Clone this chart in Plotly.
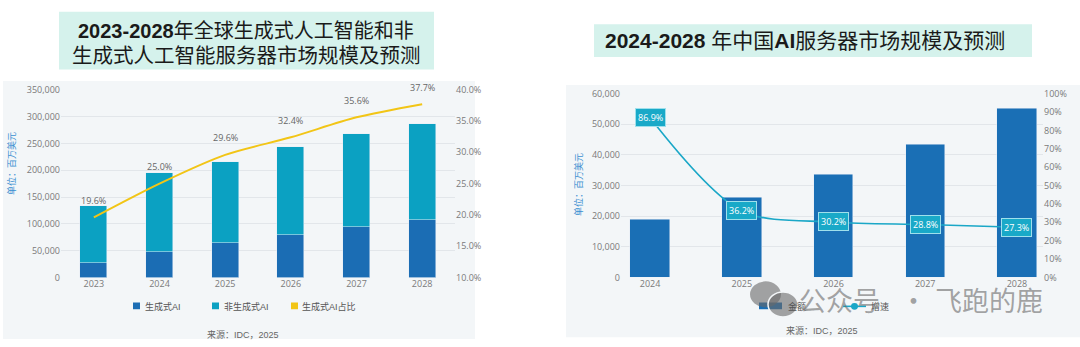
import plotly.graph_objects as go

# ---- Global generative / non-generative AI server market (USD million) ----
years_global = ["2023", "2024", "2025", "2026", "2027", "2028"]
gen_ai = [26500, 48600, 63900, 79000, 95100, 108400]
non_gen_ai = [108100, 145800, 152100, 165000, 172000, 179100]
gen_share = [19.6, 25.0, 29.6, 32.4, 35.6, 37.7]

# ---- China AI server market (USD million) and YoY growth ----
years_china = ["2024", "2025", "2026", "2027", "2028"]
china_size = [19000, 25900, 33700, 43400, 55200]
china_growth = [86.9, 36.2, 30.2, 28.8, 27.3]

W, H = 1080, 347
CJK = "Liberation Sans, Noto Sans CJK SC"
TICK = dict(size=9, color="#7a7a7a", family="Open Sans, Noto Sans CJK SC")

C_GEN = "#1b6db4"
C_NONGEN = "#0ba1c2"
C_YELLOW = "#f2c516"
C_CN_BAR = "#1a6fb5"
C_CN_LINE = "#1aa7c7"
C_MARK = "rgba(105,105,105,0.6)"


def px(x):
    return x / W


def py(y):
    return 1 - y / H


fig = go.Figure()

# Left chart: stacked bars + share line
fig.add_trace(go.Bar(x=years_global, y=gen_ai, name="生成式AI", marker_color=C_GEN,
                     width=0.41, xaxis="x", yaxis="y"))
fig.add_trace(go.Bar(x=years_global, y=non_gen_ai, name="非生成式AI", marker_color=C_NONGEN,
                     width=0.41, xaxis="x", yaxis="y"))
fig.add_trace(go.Scatter(x=years_global, y=gen_share, name="生成式AI占比", mode="lines",
                         line=dict(color=C_YELLOW, width=2, shape="spline", smoothing=0.8),
                         xaxis="x", yaxis="y2"))

# Right chart: bars + growth line
fig.add_trace(go.Bar(x=years_china, y=china_size, name="金额", marker_color=C_CN_BAR,
                     width=0.43, xaxis="x3", yaxis="y3"))
fig.add_trace(go.Scatter(x=years_china, y=china_growth, name="增速", mode="lines+markers",
                         line=dict(color=C_CN_LINE, width=1.6, shape="spline", smoothing=0.9),
                         marker=dict(size=4, color=C_CN_LINE),
                         xaxis="x3", yaxis="y4"))

annotations = []
# value labels (category axes take the category index)
for i, v in enumerate(gen_share):
    annotations.append(dict(x=i, y=v, xref="x", yref="y2", text=f"{v:.1f}%",
                            showarrow=False, yshift=17, xanchor="center", yanchor="middle",
                            font=dict(size=9, color="#666666", family=TICK["family"])))
for i, v in enumerate(china_growth):
    annotations.append(dict(x=i, y=v, xref="x3", yref="y4", text=f"{v:.1f}%",
                            showarrow=False, bgcolor="#19a9c8", bordercolor="#9fe0ec",
                            borderwidth=1, borderpad=2, xanchor="center", yanchor="middle",
                            font=dict(size=9, color="white", family=TICK["family"])))


def note(x, y, text, size, color, angle=0, family=CJK, xanchor="center"):
    return dict(x=px(x), y=py(y), xref="paper", yref="paper", showarrow=False,
                xanchor=xanchor, yanchor="middle", textangle=angle, text=text,
                font=dict(size=size, color=color, family=family))


def rect(x0, y0, x1, y1, fill, layer="above", line=None):
    return dict(type="rect", xref="paper", yref="paper", x0=px(x0), x1=px(x1),
                y0=py(y1), y1=py(y0), fillcolor=fill, layer=layer,
                line=line if line else dict(width=0))


LEG = dict(size=9, color="#555555")
annotations += [
    note(246, 25, "<b>2023-2028</b>年全球生成式人工智能和非", 20, "#1a1a1a"),
    note(246, 50, "生成式人工智能服务器市场规模及预测", 20.5, "#1a1a1a"),
    note(805, 35, "<b>2024-2028</b> 年中国<b>AI</b>服务器市场规模及预测", 21, "#1a1a1a"),
    note(12, 163, "单位：百万美元", 9, "#3b8fd1", -90),
    note(578, 185, "单位：百万美元", 9, "#3b8fd1", -90),
    # legends
    note(143, 311, "生成式AI", 9, "#555555", xanchor="left"),
    note(222, 311, "非生成式AI", 9, "#555555", xanchor="left"),
    note(300, 311, "生成式AI占比", 9, "#555555", xanchor="left"),
    note(786, 311, "金额", 9, "#555555", xanchor="left"),
    note(869, 311, "增速", 9, "#555555", xanchor="left"),
    # sources
    note(243, 341, "来源：IDC，2025", 9, "#666666"),
    note(822, 337, "来源：IDC，2025", 9, "#666666"),
    # account watermark
    note(839, 304, "公众号", 27, C_MARK, family="Noto Sans CJK SC"),
    note(913, 304, "·", 27, C_MARK, family="Noto Sans CJK SC"),
    note(989, 304, "飞跑的鹿", 27, C_MARK, family="Noto Sans CJK SC"),
]

shapes = [
    rect(3, 77, 475, 345, "#f3f6f8", layer="below"),
    rect(566, 81, 1080, 343, "#f3f6f8", layer="below"),
    rect(59, 5, 434, 65, "#d5f2ec", layer="below"),
    rect(594, 18, 1032, 52, "#d5f2ec", layer="below"),
    # legend swatches
    rect(133, 307, 140, 314, C_GEN),
    rect(212, 307, 219, 314, C_NONGEN),
    rect(291, 307, 298, 314, C_YELLOW),
    rect(759, 307, 782, 314, C_CN_BAR),
    dict(type="line", xref="paper", yref="paper", x0=px(843), x1=px(866), y0=py(311), y1=py(311),
         line=dict(color=C_CN_LINE, width=1.6)),
    dict(type="circle", xref="paper", yref="paper", x0=px(851), x1=px(858), y0=py(314.5),
         y1=py(307.5), fillcolor=C_CN_LINE, line=dict(width=0)),
    # chat-bubble icon of the watermark
    dict(type="circle", xref="paper", yref="paper", x0=px(750), x1=px(781), y0=py(312), y1=py(285),
         fillcolor=C_MARK, line_width=0),
    dict(type="circle", xref="paper", yref="paper", x0=px(768), x1=px(798), y0=py(322), y1=py(296),
         fillcolor=C_MARK, line=dict(color="#f3f6f8", width=1.5)),
]

grid = "#e2e6ea"
fig.update_layout(
    width=W, height=H, margin=dict(l=0, r=0, t=0, b=0),
    paper_bgcolor="white", plot_bgcolor="rgba(0,0,0,0)",
    barmode="stack", bargap=0, showlegend=False,
    font=dict(family=CJK),
    xaxis=dict(type="category", domain=[px(61), px(455)], anchor="y", range=[-0.5, 5.5],
               showgrid=False, showline=False, ticks="", tickfont=TICK),
    yaxis=dict(domain=[py(281), py(86)], anchor="x", range=[0, 350000], dtick=50000,
               tickformat=",", gridcolor=grid, zeroline=False, tickfont=TICK, ticks=""),
    yaxis2=dict(overlaying="y", side="right", anchor="x", range=[10, 40], dtick=5,
                tickformat=".1f", ticksuffix="%", showgrid=False, zeroline=False,
                tickfont=TICK),
    xaxis3=dict(type="category", domain=[px(621), px(1043)], anchor="y3",
                range=[-0.317, 4.284], showgrid=False, showline=False, ticks="",
                tickfont=TICK),
    yaxis3=dict(domain=[py(281), py(90)], anchor="x3", range=[0, 60000], dtick=10000,
                tickformat=",", gridcolor=grid, zeroline=False, tickfont=TICK),
    yaxis4=dict(overlaying="y3", side="right", anchor="x3", range=[0, 100], dtick=10,
                ticksuffix="%", showgrid=False, zeroline=False, tickfont=TICK),
    annotations=annotations,
    shapes=shapes,
)

fig.write_html(
    "out.html",
    post_script="document.body.style.margin='0';document.body.style.overflow='hidden';",
)
